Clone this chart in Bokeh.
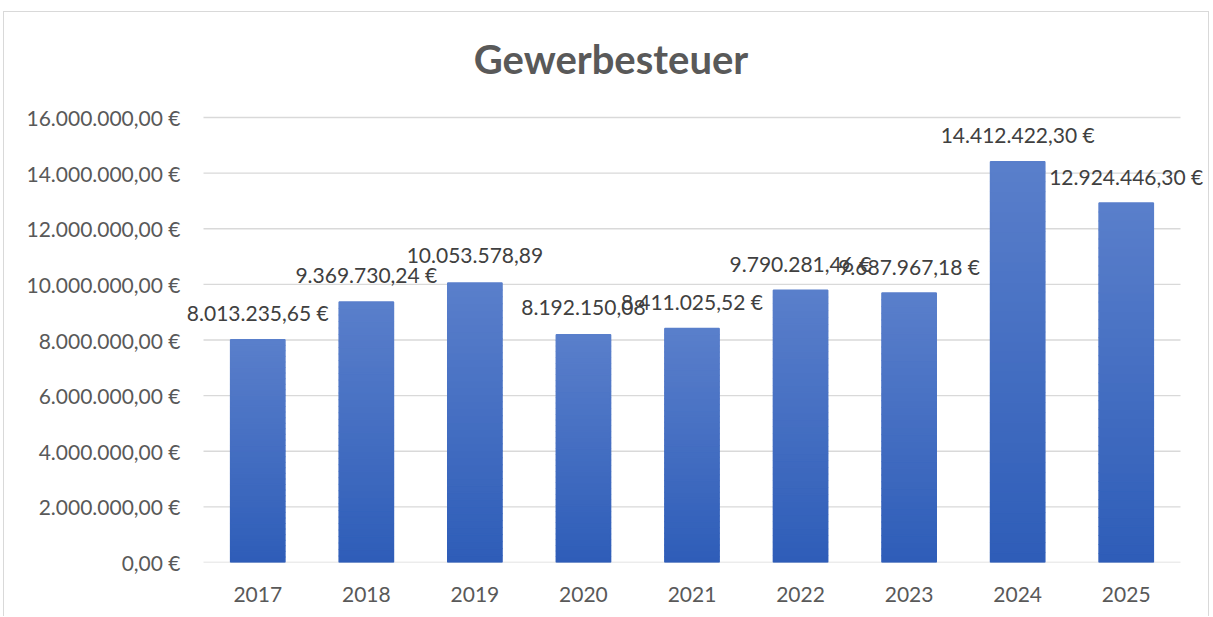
from bokeh.plotting import figure
from bokeh.models import FixedTicker, Range1d, ColumnDataSource, LabelSet, Label
from bokeh.core.properties import value
from bokeh.embed import file_html
from bokeh.resources import INLINE

# ---- data ----
title_text = "Gewerbesteuer"
years = ["2017", "2018", "2019", "2020", "2021", "2022", "2023", "2024", "2025"]
amounts = [8013235.65, 9369730.24, 10053578.89, 8192150.08, 8411025.52,
           9790281.46, 9687967.18, 14412422.30, 12924446.30]
amount_labels = ["8.013.235,65 €", "9.369.730,24 €", "10.053.578,89", "8.192.150,08",
                 "8.411.025,52 €", "9.790.281,46 €", "9.687.967,18 €",
                 "14.412.422,30 €", "12.924.446,30 €"]
y_ticks = [0, 2000000, 4000000, 6000000, 8000000, 10000000, 12000000, 14000000, 16000000]
y_tick_labels = ["0,00 €", "2.000.000,00 €", "4.000.000,00 €", "6.000.000,00 €",
                 "8.000.000,00 €", "10.000.000,00 €", "12.000.000,00 €",
                 "14.000.000,00 €", "16.000.000,00 €"]

# ---- style / layout ----
FONT = "Lato"
TOP_C = (0x5A, 0x7F, 0xCB)
BOT_C = (0x2E, 0x5D, 0xB8)
N_SLICES = 40
PLOT_H = 445      # px between 0 and the top tick
FRAME_H = 550     # frame extends up to hold the title as well

n = len(years)
pos = list(range(n))  # category positions on a numeric axis


def mix(t):
    r = [round(b + (a - b) * t) for a, b in zip(TOP_C, BOT_C)]
    return "#%02x%02x%02x" % tuple(r)


# frame is wider/taller than the plot area so labels and title are not clipped
p = figure(x_range=Range1d(-0.675, n - 1 + 0.758),
           y_range=Range1d(0, y_ticks[-1] * FRAME_H / PLOT_H),
           frame_width=1024, frame_height=FRAME_H,
           min_border_left=180, min_border_right=0,
           min_border_top=0, min_border_bottom=54,
           output_backend="svg", toolbar_location=None)
p.margin = (11, 0, 0, 3)
p.styles = {"border-top": "1px solid #D9D9D9",
            "border-left": "1px solid #D9D9D9",
            "border-right": "1px solid #D9D9D9"}

# horizontal grid lines over the category area only
p.segment(x0=[-0.5] * len(y_ticks), x1=[n - 0.5] * len(y_ticks),
          y0=y_ticks, y1=y_ticks, line_color="#D9D9D9", line_width=1.3)

# gradient bars built as stacked slices of each bar
xs, bottoms, tops, cols = [], [], [], []
for x, v in zip(pos, amounts):
    for k in range(N_SLICES):
        xs.append(x)
        bottoms.append(v * k / N_SLICES)
        tops.append(v * (k + 1) / N_SLICES)
        cols.append(mix((k + 0.5) / N_SLICES))
src = ColumnDataSource(dict(x=xs, bottom=bottoms, top=tops, color=cols))
p.vbar(x="x", bottom="bottom", top="top", width=0.5, source=src,
       fill_color="color", line_color="color", line_width=1.5)

# data labels
lab_src = ColumnDataSource(dict(x=pos, y=amounts, text=amount_labels))
labels = LabelSet(x="x", y="y", text="text", source=lab_src,
                  text_align="center", text_baseline="middle", y_offset=27,
                  text_font=value(FONT), text_font_size=value("21px"),
                  text_color="#404040")
p.add_layout(labels)

# chart title
p.add_layout(Label(x=(n - 1) / 2, y=y_ticks[-1], x_offset=-81, y_offset=59,
                   text=title_text, text_align="center", text_baseline="middle",
                   text_font=FONT, text_font_style="bold", text_font_size="40px",
                   text_color="#595959"))

# axes
p.yaxis.ticker = FixedTicker(ticks=y_ticks)
p.yaxis.major_label_overrides = {t: l for t, l in zip(y_ticks, y_tick_labels)}
p.yaxis.axis_line_color = None
p.yaxis.major_tick_line_color = None
p.yaxis.minor_tick_line_color = None
p.yaxis.major_label_standoff = -2
p.yaxis.major_label_text_font = FONT
p.yaxis.major_label_text_font_size = "21px"
p.yaxis.major_label_text_color = "#595959"

p.xaxis.ticker = FixedTicker(ticks=pos)
p.xaxis.major_label_overrides = {x: y for x, y in zip(pos, years)}
p.xaxis.axis_line_color = None
p.xaxis.major_tick_line_color = None
p.xaxis.minor_tick_line_color = None
p.xaxis.major_label_standoff = 18
p.xaxis.major_label_text_font = FONT
p.xaxis.major_label_text_font_size = "21px"
p.xaxis.major_label_text_color = "#595959"

p.xgrid.visible = False
p.ygrid.visible = False
p.outline_line_color = None

open("out.html", "w").write(file_html(p, INLINE))
